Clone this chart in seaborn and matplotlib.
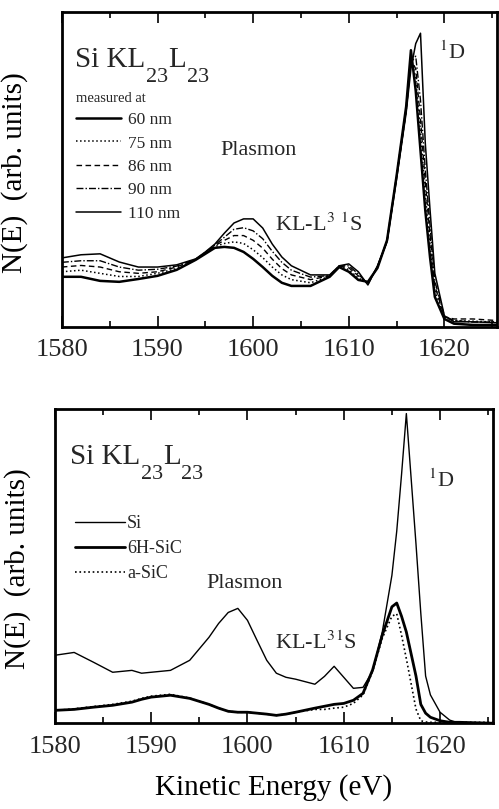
import matplotlib
matplotlib.use("Agg")
import matplotlib.pyplot as plt
from matplotlib.ticker import MultipleLocator
import seaborn as sns

# ------------------------------------------
# DATA (arb. units)
# ------------------------------------------
# upper panel: Si KL23L23 measured at several depths
energy_top = [1580, 1582, 1584, 1586, 1588, 1590, 1592, 1594,
              1595, 1596, 1597, 1598, 1599, 1600, 1601, 1602, 1603, 1604,
              1606, 1608, 1609, 1610, 1611, 1612, 1613, 1614,
              1615, 1616, 1616.5, 1617, 1617.5, 1618, 1618.5, 1619, 1620, 1621, 1623, 1625.5]
n60 = [15.9, 15.9, 14.6, 14.3, 15.2, 16.2, 18.1, 21.3,
       23.2, 25.1, 25.4, 25.1, 23.8, 21.6, 19.0, 16.2, 14.0, 13.0,
       13.0, 15.9, 19.0, 17.5, 14.9, 14.3, 18.7, 27.5,
       48.0, 70.0, 87.9, 75.0, 56.0, 37.0, 22.0, 9.5, 2.5, 1.0, 0.6, 0.6]
n75 = [17.5, 18.0, 17.0, 16.0, 16.0, 17.0, 18.5, 21.3,
       23.4, 25.5, 26.5, 27.0, 26.5, 24.5, 22.0, 19.0, 16.5, 15.0,
       14.0, 16.0, 19.2, 18.2, 15.5, 14.0, 18.9, 27.5,
       48.0, 69.5, 86.0, 79.0, 62.0, 42.0, 26.0, 11.5, 3.0, 2.0, 1.8, 1.5]
n86 = [19.0, 19.5, 19.0, 17.5, 17.0, 17.5, 19.0, 21.5,
       23.5, 25.8, 27.5, 29.0, 29.0, 27.5, 25.0, 21.5, 18.5, 16.5,
       15.0, 16.2, 19.3, 18.8, 16.2, 13.8, 19.0, 27.3,
       47.7, 69.0, 85.0, 82.0, 66.0, 46.0, 29.0, 13.0, 3.2, 2.5, 2.5, 2.0]
n90 = [20.5, 21.0, 21.0, 19.0, 18.0, 18.3, 19.3, 21.5,
       23.7, 26.0, 28.5, 31.0, 31.5, 30.5, 28.0, 24.0, 20.5, 18.0,
       15.8, 16.3, 19.4, 19.4, 16.8, 13.5, 19.2, 27.2,
       47.5, 68.5, 84.0, 86.0, 72.0, 50.0, 32.0, 14.5, 3.4, 2.0, 1.5, 1.5]
n110 = [21.9, 22.9, 23.2, 20.6, 19.0, 19.0, 19.7, 21.6,
        23.8, 26.3, 29.8, 33.0, 34.3, 34.3, 31.4, 26.3, 22.2, 19.4,
        16.5, 16.5, 19.4, 20.0, 17.5, 13.3, 19.4, 27.0,
        47.0, 68.0, 82.0, 90.0, 93.3, 58.4, 37.1, 17.0, 3.5, 1.6, 1.6, 1.3]
depth_labels = ["60 nm", "75 nm", "86 nm", "90 nm", "110 nm"]

# lower panel: Si, 6H-SiC, a-SiC
energy_bot = [1580, 1582, 1584, 1586, 1588, 1589, 1590, 1592, 1594,
              1596, 1597, 1598, 1599, 1600, 1601, 1602, 1603, 1604, 1605,
              1607, 1608, 1609, 1610, 1611, 1612, 1613, 1614,
              1615, 1615.5, 1616, 1616.5, 1617.5, 1618, 1618.5, 1619, 1620, 1621, 1622, 1625.5]
si = [21.6, 22.5, 19.4, 16.2, 16.8, 15.9, 16.2, 16.8, 20.0,
      27.3, 31.7, 35.2, 36.5, 32.7, 26.3, 20.0, 15.9, 14.6, 14.0,
      12.4, 14.9, 18.1, 14.6, 11.1, 11.4, 16.5, 29.0,
      47.0, 61.0, 79.0, 98.4, 57.0, 35.0, 15.0, 9.0, 3.5, 1.0, 0.0, 0.0]
sic_6h = [4.1, 4.4, 5.1, 5.7, 6.7, 7.6, 8.3, 8.9, 7.9,
          6.0, 4.8, 3.8, 3.5, 3.5, 3.2, 2.9, 2.5, 2.9, 3.5,
          4.8, 5.4, 6.0, 6.3, 7.3, 9.5, 17.0, 28.0,
          37.0, 38.2, 34.0, 29.0, 15.0, 6.0, 3.2, 1.9, 0.8, 0.3, 0.3, 0.0]
sic_a = [4.0, 4.6, 5.3, 6.0, 7.0, 7.9, 8.6, 9.2, 8.0,
         6.0, 4.8, 3.8, 3.5, 3.5, 3.2, 2.9, 2.5, 2.9, 3.5,
         4.4, 4.4, 4.8, 5.1, 6.3, 9.0, 16.5, 27.0,
         34.0, 34.8, 28.0, 20.5, 4.5, 0.8, 0.4, 0.3, 0.3, 0.3, 0.3, 0.3]
sample_labels = ["Si", "6H-SiC", "a-SiC"]

x_ticks = [1580, 1590, 1600, 1610, 1620]

# ------------------------------------------
# STYLE
# ------------------------------------------
sns.set_style("ticks")
plt.rcParams["font.family"] = ["Liberation Serif", "DejaVu Serif"]
plt.rcParams["mathtext.fontset"] = "stix"
plt.rcParams["axes.linewidth"] = 2.0

fig = plt.figure(figsize=(4.99, 8.09), dpi=100)
ax1 = fig.add_axes([0.124, 0.596, 0.872, 0.389])
ax2 = fig.add_axes([0.110, 0.106, 0.878, 0.389])


def style_axis(ax):
    ax.set_xlim(1580, 1625.5)
    ax.set_ylim(0, 100)
    ax.set_xticks(x_ticks)
    ax.xaxis.set_minor_locator(MultipleLocator(5))
    ax.set_yticks([])
    ax.tick_params(axis="x", which="both", direction="in", top=True,
                   bottom=True, labelsize=19, pad=9, width=1.2, color="black")
    ax.tick_params(axis="x", which="major", length=8)
    ax.tick_params(axis="x", which="minor", length=4)
    for sp in ax.spines.values():
        sp.set_color("black")
        sp.set_linewidth(2.0)
    ax.set_ylabel("N(E)  (arb. units)", fontsize=21, color="black")


def transition_label(ax, x, y):
    # Si KL23L23 with big, deep subscripts laid out piece by piece
    renderer = fig.canvas.get_renderer()
    parts = [("Si KL", 21, 0), ("23", 16, -15), ("L", 21, 0), ("23", 16, -15)]
    xoff = 0
    for s, size, dy in parts:
        t = ax.annotate(s, (x, y), xycoords="axes fraction", xytext=(xoff, dy),
                        textcoords="offset pixels", fontsize=size,
                        va="baseline", ha="left")
        xoff += t.get_window_extent(renderer).width + 0.5


# ---- upper panel ----
top_series = [n60, n75, n86, n90, n110]
top_styles = [("-", 1.8), (":", 1.1), ((0, (4, 2.5)), 1.0), ((0, (5, 1.5, 1, 1.5)), 1.0), ("-", 1.1)]
for vals, lab, (ls, lw) in zip(top_series, depth_labels, top_styles):
    sns.lineplot(x=energy_top, y=vals, ax=ax1, color="black", linestyle=ls,
                 linewidth=lw, label=lab)

style_axis(ax1)
ax1.set_xlabel("")
ax1.yaxis.set_label_coords(-0.078, 0.49)
ax1.legend(title="measured at", loc="upper left", bbox_to_anchor=(0.012, 0.775),
           frameon=False, fontsize=12.5, title_fontsize=10.5, alignment="left",
           handlelength=2.6, handletextpad=0.4, labelspacing=0.42, borderpad=0)
transition_label(ax1, 0.03, 0.825)
ax1.text(1596.6, 56, "Plasmon", fontsize=16, va="center", ha="left")
ax1.text(1602.3, 32.5, r"KL-L$^3$ $^1$S", fontsize=16, va="center", ha="left")
ax1.text(1619.4, 87, r"$^1$D", fontsize=16, va="center", ha="left")

# ---- lower panel ----
bot_series = [si, sic_6h, sic_a]
bot_styles = [("-", 1.0), ("-", 2.0), (":", 1.2)]
for vals, lab, (ls, lw) in zip(bot_series, sample_labels, bot_styles):
    sns.lineplot(x=energy_bot, y=vals, ax=ax2, color="black", linestyle=ls,
                 linewidth=lw, label=lab)

style_axis(ax2)
ax2.yaxis.set_label_coords(-0.055, 0.49)
ax2.set_xlabel("Kinetic Energy (eV)", fontsize=21, labelpad=12, color="black")
ax2.legend(loc="upper left", bbox_to_anchor=(0.025, 0.69), frameon=False,
           fontsize=13, handlelength=2.8, handletextpad=0.1, labelspacing=0.45,
           borderpad=0)
transition_label(ax2, 0.034, 0.825)
ax2.text(1595.7, 44.5, "Plasmon", fontsize=16, va="center", ha="left")
ax2.text(1602.9, 25.5, r"KL-L$^3$$^1$S", fontsize=16, va="center", ha="left")
ax2.text(1618.8, 77, r"$^1$D", fontsize=16, va="center", ha="left")

fig.savefig("out.png", dpi=100)
